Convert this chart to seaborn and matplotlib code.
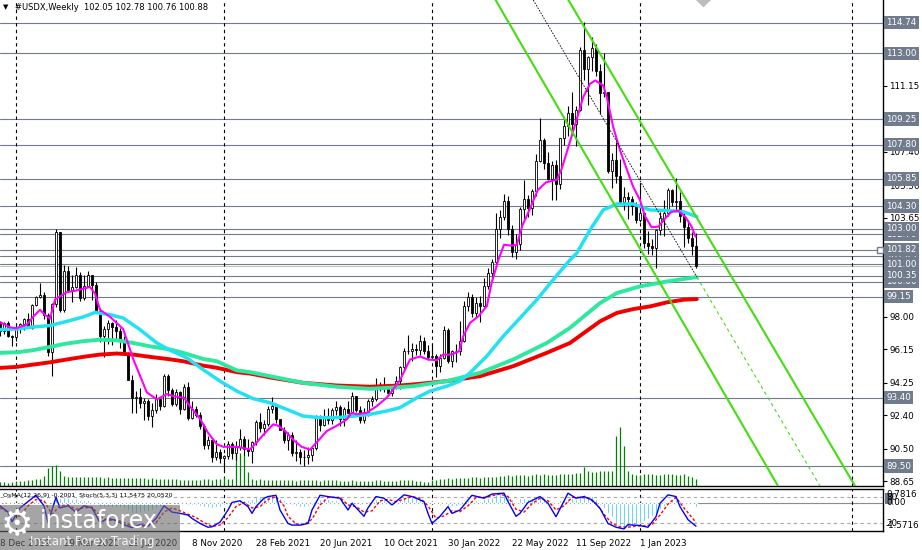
import matplotlib
matplotlib.use("Agg")
import matplotlib.pyplot as plt  # noqa: E402
import seaborn as sns  # noqa: E402
import numpy as np  # noqa: E402
from matplotlib.patches import Rectangle  # noqa: E402
from matplotlib.transforms import blended_transform_factory  # noqa: E402

sns.set_theme(style="white")
plt.rcParams["font.family"] = ["DejaVu Sans"]

# ---------------------------------------------------------------- data
# weekly bars, first bar = week of 8 Dec 2019, last = week of 9 Apr 2023
first_open = 97.70
closes = [
    97.18, 97.66, 96.93, 96.84, 97.36, 97.60, 97.87, 97.39, 98.69, 99.10,
    99.26, 98.13, 95.99, 98.74, 102.82, 98.36, 100.60, 99.50, 99.70, 100.38,
    99.06, 99.73, 100.37, 99.81, 98.34, 96.92, 97.33, 97.62, 97.43, 97.21,
    96.65, 95.92, 94.43, 93.35, 93.42, 93.10, 93.23, 92.36, 92.71, 93.32,
    92.93, 94.64, 93.84, 93.05, 93.70, 92.76, 94.03, 92.23, 92.75, 92.39,
    91.79, 90.70, 90.97, 90.02, 90.32, 89.94, 90.10, 90.77, 90.24, 90.58,
    91.03, 90.48, 90.36, 90.88, 91.99, 91.67, 91.88, 92.77, 92.94, 92.16,
    91.56, 91.00, 91.30, 90.23, 90.30, 90.00, 90.03, 90.14, 90.55, 92.23,
    91.85, 92.23, 92.13, 92.69, 92.89, 92.17, 92.78, 92.52, 93.47, 92.70,
    92.10, 92.58, 93.21, 93.33, 94.04, 94.08, 93.96, 93.64, 94.12, 94.32,
    95.13, 96.03, 96.08, 96.15, 96.12, 96.61, 96.03, 95.70, 95.75, 95.18,
    95.64, 97.27, 95.48, 96.05, 96.05, 96.62, 98.63, 99.12, 98.19, 98.79,
    98.61, 99.77, 100.52, 101.14, 103.00, 103.66, 104.59, 103.02, 101.67, 102.16,
    104.15, 104.71, 104.19, 105.14, 106.89, 108.07, 106.73, 105.87, 106.62, 105.58,
    108.15, 108.85, 109.60, 109.00, 109.79, 113.19, 112.12, 112.80, 113.31, 111.98,
    110.76, 110.80, 106.30, 106.92, 106.01, 104.55, 104.82, 104.70, 104.33, 103.52,
    103.88, 102.22, 102.02, 101.93, 102.92, 103.63, 103.88, 105.21, 104.52, 104.58,
    103.73, 103.12, 102.51, 102.05, 100.88,
]
highs = [
    97.75, 97.72, 97.75, 96.95, 97.60, 97.62, 97.95, 98.19, 98.75, 99.20,
    99.91, 99.40, 98.20, 98.80, 102.99, 102.82, 100.93, 100.87, 100.40, 100.85,
    100.55, 100.40, 100.58, 100.40, 99.97, 98.50, 97.50, 97.80, 97.70, 97.80,
    97.35, 96.90, 96.00, 94.70, 93.75, 93.95, 93.40, 93.30, 93.10, 93.60,
    93.35, 94.75, 94.75, 93.95, 93.90, 93.80, 94.20, 94.30, 93.20, 92.90,
    92.60, 91.90, 91.20, 91.05, 91.00, 90.50, 90.15, 90.95, 90.90, 90.95,
    91.60, 91.20, 91.05, 90.95, 92.10, 92.50, 92.10, 92.90, 93.45, 93.00,
    92.20, 91.70, 91.45, 91.43, 91.00, 90.50, 90.40, 90.60, 90.65, 92.40,
    92.40, 92.75, 92.80, 92.80, 93.20, 93.00, 92.85, 93.20, 93.70, 93.50,
    92.95, 92.80, 93.30, 93.50, 94.50, 94.30, 94.55, 94.05, 94.15, 94.65,
    95.20, 96.25, 96.95, 96.50, 96.45, 96.95, 96.85, 96.40, 96.45, 95.90,
    95.90, 97.45, 97.35, 96.10, 96.45, 97.75, 98.90, 99.40, 99.30, 99.10,
    99.20, 100.20, 100.75, 101.30, 103.90, 104.10, 105.00, 104.85, 103.20, 102.70,
    104.25, 105.80, 104.95, 105.25, 107.25, 109.30, 108.20, 107.40, 106.85, 106.95,
    108.20, 109.30, 109.98, 110.80, 110.00, 113.35, 114.78, 112.85, 113.90, 113.50,
    112.40, 113.00, 110.80, 107.30, 107.95, 107.00, 105.40, 105.10, 104.85, 104.55,
    105.60, 103.90, 102.90, 102.40, 103.00, 103.95, 104.65, 105.35, 105.30, 105.90,
    105.10, 104.00, 103.50, 102.80, 102.78,
]
lows = [
    96.90, 97.00, 96.85, 96.36, 96.60, 97.07, 97.25, 97.35, 97.30, 98.60,
    99.05, 97.90, 95.78, 94.65, 98.55, 98.26, 98.30, 99.40, 98.84, 99.64,
    98.90, 98.95, 99.67, 98.95, 98.32, 96.55, 95.71, 96.45, 96.38, 96.75,
    96.20, 95.80, 94.40, 92.55, 92.55, 92.80, 92.10, 92.12, 91.75, 92.50,
    92.70, 92.85, 93.50, 92.95, 92.95, 92.45, 92.70, 92.14, 92.20, 92.30,
    91.60, 90.50, 90.47, 89.72, 89.85, 89.70, 89.20, 89.90, 89.90, 89.85,
    90.40, 90.10, 90.05, 89.70, 90.70, 91.45, 91.30, 91.80, 92.55, 91.95,
    91.55, 90.80, 90.42, 90.10, 89.80, 89.65, 89.53, 89.65, 89.80, 90.40,
    91.50, 91.80, 91.90, 91.90, 92.40, 91.80, 91.80, 92.45, 92.45, 92.60,
    91.95, 91.95, 92.35, 92.90, 93.20, 93.75, 93.70, 93.50, 93.50, 93.90,
    93.90, 94.95, 95.90, 95.50, 95.85, 95.80, 95.90, 95.55, 95.60, 94.60,
    94.85, 95.60, 95.35, 95.15, 95.40, 95.80, 96.55, 98.35, 98.00, 98.00,
    97.70, 98.55, 99.60, 100.10, 101.00, 102.50, 103.50, 102.65, 101.40, 101.30,
    101.80, 103.40, 103.70, 103.80, 104.85, 106.80, 106.40, 105.80, 104.65, 104.65,
    105.25, 107.80, 108.30, 108.35, 107.70, 109.70, 111.50, 110.05, 112.00, 111.70,
    109.55, 110.50, 106.20, 105.35, 105.60, 104.40, 104.10, 103.55, 103.80, 103.35,
    103.40, 101.90, 101.55, 101.50, 100.80, 102.65, 102.60, 103.75, 104.30, 104.10,
    103.40, 102.00, 102.20, 101.50, 100.76,
]
volumes = [
    40, 45, 35, 40, 50, 55, 55, 60, 65, 70,
    75, 100, 180, 200, 210, 150, 100, 95, 95, 92,
    90, 90, 88, 90, 92, 88, 85, 88, 85, 82,
    85, 80, 80, 82, 78, 80, 78, 75, 78, 75,
    72, 72, 70, 72, 68, 65, 65, 62, 60, 62,
    65, 68, 70, 65, 70, 75, 90, 72, 70, 320,
    330, 300, 140, 70, 65, 68, 62, 60, 65, 62,
    58, 60, 62, 58, 55, 60, 58, 62, 60, 58,
    55, 58, 60, 62, 58, 55, 52, 55, 58, 55,
    52, 50, 52, 55, 58, 60, 55, 52, 50, 55,
    58, 62, 65, 60, 55, 50, 45, 40, 60, 65,
    70, 75, 80, 72, 78, 82, 85, 80, 88, 90,
    85, 92, 95, 88, 92, 98, 105, 110, 100, 115,
    108, 112, 105, 110, 118, 115, 120, 112, 108, 115,
    120, 125, 118, 122, 128, 130, 190, 150, 145, 140,
    148, 150, 155, 150, 500, 590, 400, 150, 120, 110,
    115, 125, 120, 118, 115, 110, 120, 125, 118, 115,
    112, 120, 105, 90, 75,
]
osma = [
    -0.05, -0.02, -0.04, -0.08, -0.05, 0.00, 0.05, 0.06, 0.12, 0.18,
    0.20, 0.12, -0.05, 0.00, 0.35, 0.30, 0.32, 0.28, 0.24, 0.25,
    0.18, 0.15, 0.14, 0.08, -0.05, -0.20, -0.25, -0.25, -0.25, -0.22,
    -0.22, -0.28, -0.40, -0.55, -0.55, -0.52, -0.45, -0.45, -0.40, -0.30,
    -0.25, -0.05, -0.02, -0.05, 0.00, -0.08, 0.05, -0.12, -0.10, -0.12,
    -0.15, -0.25, -0.22, -0.28, -0.20, -0.20, -0.12, 0.00, 0.05, 0.12,
    0.20, 0.18, 0.17, 0.22, 0.35, 0.38, 0.40, 0.47, 0.52, 0.42,
    0.30, 0.15, 0.08, -0.12, -0.16, -0.20, -0.20, -0.18, -0.10, 0.18,
    0.22, 0.25, 0.20, 0.18, 0.15, 0.05, 0.06, 0.03, 0.10, 0.00,
    -0.10, -0.08, 0.00, 0.05, 0.20, 0.22, 0.20, 0.12, 0.12, 0.12,
    0.22, 0.30, 0.35, 0.32, 0.28, 0.27, 0.18, 0.10, 0.05, -0.08,
    -0.10, 0.05, -0.15, -0.18, -0.17, -0.12, 0.08, 0.18, 0.15, 0.15,
    0.12, 0.20, 0.26, 0.32, 0.50, 0.58, 0.60, 0.42, 0.20, 0.12,
    0.25, 0.28, 0.20, 0.22, 0.35, 0.42, 0.28, 0.12, 0.10, -0.05,
    0.15, 0.25, 0.30, 0.25, 0.22, 0.45, 0.48, 0.40, 0.38, 0.22,
    -0.10, -0.30, -0.55, -0.80, -1.10, -1.30, -1.42, -1.40, -1.30, -1.20,
    -1.10, -1.00, -0.90, -0.75, -0.55, -0.35, -0.15, 0.08, 0.15, 0.15,
    0.12, 0.08, 0.05, -0.08, -0.2001,
]

# moving averages (bar index, price)
mag_x = [0, 2.5, 4, 6.7, 8.3, 10, 11.3, 12.5, 13.8, 16.7,
         19.2, 22.5, 23.8, 25, 27.5, 30.8, 33.3, 36.7, 39.2, 41.7,
         44, 46, 47.5, 50, 52, 54.2, 55.8, 59.2, 62.5, 64.2,
         66.7, 68.3, 69.6, 71.3, 73.3, 75.4, 77.5, 79.2, 81.7, 84.2,
         86.7, 87.9, 89.2, 91.7, 94.2, 96.7, 98.3, 100, 102.5, 105,
         107, 109.2, 110.8, 112.9, 114.8, 115.8, 117.5, 119.6, 121.7, 122.9,
         124.6, 126, 127.9, 129.2, 130.6, 132.4, 134.4, 136.5, 139.2, 140.4,
         142.1, 144.6, 145.8, 147.5, 148.8, 150.8, 151.7, 153.3, 155, 157,
         158.3, 160, 161.3, 162.9, 164.6, 166.3, 167.9, 169.6, 171.3, 172.9,
         173.9]
mag_y = [97.7, 97.4, 97.35, 97.55, 98.0, 98.4, 98.1, 97.9, 99.0, 99.4,
         99.5, 99.7, 99.3, 98.4, 98.0, 97.3, 95.6, 93.7, 93.3, 93.6,
         93.45, 93.4, 92.9, 92.2, 91.4, 90.75, 90.6, 90.6, 90.45, 90.86,
         91.5, 91.88, 91.8, 91.5, 91.0, 90.6, 90.44, 90.86, 91.5, 91.8,
         92.16, 92.54, 92.45, 92.54, 92.92, 93.4, 93.87, 94.4, 95.57, 95.74,
         95.57, 95.53, 95.85, 95.85, 96.04, 96.89, 97.65, 98.03, 98.6, 99.92,
         101.24, 102.1, 102.05, 102.1, 103.2, 104.1, 105.2, 105.65, 105.8, 106.4,
         107.67, 109.56, 110.5, 111.26, 111.45, 111.17, 110.5, 108.8, 107.48, 106.2,
         105.4, 104.64, 103.7, 103.1, 103.13, 103.6, 103.98, 104.04, 103.7, 103.13,
         102.56]
cyan_x = [0, 4.2, 8.3, 12.5, 16.7, 20.8, 23.8, 27.5, 30.8, 35,
          39.2, 42.5, 46.7, 50.8, 55, 59.2, 63.3, 67.5, 71.7, 75.8,
          80, 84.2, 88.3, 92.5, 96.7, 100, 104.2, 107.5, 111.7, 115,
          117.5, 121.7, 125.8, 130, 134.2, 138.3, 142.5, 144.2, 147.5, 150.8,
          154.2, 158.3, 162.5, 166.7, 170.8, 174.2]
cyan_y = [97.27, 97.31, 97.42, 97.5, 97.74, 97.99, 98.25, 98.12, 97.93, 97.27,
          96.51, 96.1, 95.66, 94.99, 94.34, 93.77, 93.34, 93.11, 92.73, 92.35,
          92.26, 92.26, 92.35, 92.45, 92.64, 92.83, 93.39, 93.77, 94.05, 94.34,
          94.81, 95.76, 96.89, 97.93, 98.97, 100.11, 101.24, 101.62, 102.94, 104.08,
          104.42, 104.42, 104.08, 104.05, 103.98, 103.7]
mint_x = [0, 4.2, 8.3, 12.5, 16.7, 20.8, 25, 29.2, 33.3, 37.5,
          42.5, 45.8, 50.8, 54.2, 59.2, 62.5, 67.5, 75.8, 84.2, 92.5,
          100, 103.3, 111.7, 120, 128.3, 136.7, 142.5, 150, 154.2, 160,
          166.7, 174.2]
mint_y = [95.95, 95.98, 96.1, 96.29, 96.48, 96.61, 96.7, 96.66, 96.51, 96.32,
          96.14, 95.95, 95.6, 95.47, 94.95, 94.85, 94.62, 94.24, 94.02, 93.9,
          94.0, 94.05, 94.34, 94.81, 95.57, 96.51, 97.37, 98.78, 99.35, 99.73,
          100.01, 100.26]
red_x = [0, 4.2, 8.3, 12.5, 16.7, 20.8, 25, 29.2, 33.3, 37.5,
         42.5, 45.8, 50.8, 54.2, 59.2, 62.5, 67.5, 75.8, 84.2, 92.5,
         100, 103.3, 111.7, 120, 128.3, 136.7, 142.5, 150, 154.2, 158.3,
         162.5, 166.7, 170.8, 174.2]
red_y = [95.09, 95.15, 95.28, 95.41, 95.57, 95.72, 95.85, 95.91, 95.85, 95.72,
         95.58, 95.47, 95.22, 95.1, 94.85, 94.77, 94.55, 94.24, 94.09, 94.02,
         94.09, 94.15, 94.34, 94.62, 95.19, 95.95, 96.51, 97.74, 98.22, 98.44,
         98.59, 98.82, 98.97, 99.01]

# stochastic (5,3,3) main and signal
stoch_x = [0, 2, 3, 5, 7, 9, 11, 12, 14, 15, 17, 19, 21, 23, 25, 27, 29, 31, 33, 35,
           37, 39, 41, 43, 45, 47, 48, 50, 52, 53, 55, 57, 58, 60, 62, 63, 64, 66, 67, 69,
           70, 72, 73, 75, 77, 78, 80, 82, 85, 87, 88, 91, 92, 94, 96, 98, 101, 103, 106, 107,
           108, 110, 112, 113, 115, 117, 118, 121, 123, 126, 127, 129, 130, 132, 135, 137, 139,
           142, 144, 146, 148, 150, 152, 154, 156, 157, 160, 162, 164, 165, 167, 169, 170, 172,
           173, 174]
stoch_main = [60, 45, 22, 55, 70, 85, 60, 20, 80, 55, 60, 45, 60, 55, 20, 30, 25, 15, 8, 15,
              12, 30, 60, 45, 42, 38, 30, 18, 9, 10, 21, 50, 68, 72, 58, 42, 58, 78, 82, 85,
              50, 18, 14, 14, 18, 50, 85, 82, 78, 50, 66, 35, 55, 82, 78, 62, 86, 82, 70, 42,
              18, 35, 58, 42, 50, 74, 85, 78, 88, 90, 70, 35, 42, 68, 82, 66, 34,
              90, 78, 82, 74, 54, 18, 9, 5, 15, 13, 9, 34, 66, 86, 82, 58, 27,
              19, 11.55]
sig_x = [0, 3, 5, 7, 9, 11, 13, 15, 17, 19, 21, 23, 25, 27, 29, 31, 33, 35, 37, 39,
         41, 43, 45, 47, 49, 51, 53, 55, 57, 59, 61, 63, 65, 67, 69, 71, 72, 74, 76, 78,
         80, 82, 85, 87, 89, 91, 93, 95, 97, 99, 101, 103, 105, 107, 109, 111, 113, 115, 117, 119,
         121, 123, 125, 127, 129, 131, 133, 135, 137, 139, 141, 143, 145, 147, 149, 151, 153, 155,
         157, 159, 161, 163, 165, 167, 169, 171, 173, 174]
stoch_sig = [55, 40, 35, 60, 75, 72, 40, 60, 62, 52, 55, 57, 35, 25, 27, 20, 12, 11, 13, 20,
             45, 55, 48, 40, 32, 20, 11, 14, 32, 58, 68, 55, 58, 75, 82, 60, 35, 17, 15, 28,
             62, 80, 80, 62, 58, 45, 48, 72, 75, 70, 76, 82, 78, 60, 30, 36, 48, 46, 60, 80,
             80, 84, 88, 82, 52, 45, 65, 78, 72, 50, 60, 80, 80, 78, 66, 40, 18, 10,
             9, 12, 12, 15, 38, 64, 80, 55, 32, 20.05]

# channel / trend lines (bar, price anchors)
chan_lo_x, chan_lo_y = [123.9, 194.5], [116.03, 88.37]
chan_hi_x, chan_hi_y = [142.1, 213.75], [116.03, 88.37]
mid_x, mid_y = [133.3, 174.2], [116.03, 100.27]
mid_ext_x, mid_ext_y = [174.2, 205.0], [100.27, 88.37]

# horizontal levels (drawing order = stacking order of the labels)
levels = [114.74, 113.00, 109.25, 107.80, 105.85, 104.30, 102.70, 103.00,
          101.45, 101.82, 101.00, 100.00, 100.35, 99.15, 93.40, 89.50]
bid = 100.88
price_ticks = [88.65, 90.50, 92.40, 94.25, 96.15, 98.00, 99.90, 101.75,
               103.65, 105.50, 107.40, 109.30, 111.15, 113.05]
hidden_ticks = [99.90, 101.75, 109.30, 113.05]  # fully under level boxes
separators = [4, 56, 108, 160, 213]
date_ticks = [0, 16, 32, 48, 64, 80, 96, 112, 128, 144, 160]
date_labels = ["8 Dec 2019", "29 Mar 2020", "19 Jul 2020", "8 Nov 2020",
               "28 Feb 2021", "20 Jun 2021", "10 Oct 2021", "30 Jan 2022",
               "22 May 2022", "11 Sep 2022", "1 Jan 2023"]

# ---------------------------------------------------------------- layout
W, H = 922, 550
LEVEL_C = "#707c8c"
fig = plt.figure(figsize=(W / 100, H / 100), dpi=100)
fig.patch.set_facecolor("white")


def box(x0, y0, x1, y1):
    return [x0 / W, 1 - y1 / H, (x1 - x0) / W, (y1 - y0) / H]


ax = fig.add_axes(box(0, 0, 883, 486))
ax_s = fig.add_axes(box(0, 489, 883, 531))
XLIM = (0, 883 / 4)
YLIM = (88.37, 116.03)

idx = np.arange(len(closes))
c = np.array(closes)
o = np.array([first_open] + closes[:-1])
h = np.array(highs)
lo = np.array(lows)

# levels and separators
for lv in levels:
    ax.axhline(lv, color=LEVEL_C, lw=0.8, zorder=1)
ax.axhline(bid, color="#c4c4c4", lw=0.8, zorder=1)
for s in separators:
    ax.axvline(s, color="black", lw=0.8, ls=(0, (3, 3)), zorder=1.5)
    ax_s.axvline(s, color="black", lw=0.8, ls=(0, (3, 3)), zorder=1.5)

# volume at the bottom of the price window
vtrans = blended_transform_factory(ax.transData, ax.transAxes)
ax.vlines(idx, 0, np.array(volumes) / 4860, transform=vtrans,
          color="#008000", lw=0.9, zorder=2)

# candles
ax.vlines(idx, lo, h, color="black", lw=0.8, zorder=3)
body_c = ["white" if cc >= oo else "black" for oo, cc in zip(o, c)]
ax.bar(idx, np.abs(c - o), bottom=np.minimum(o, c), width=0.6,
       color=body_c, edgecolor="black", linewidth=0.6, zorder=4)

# moving averages
for xs, ys, col, lw in [(red_x, red_y, "#f20000", 2.8),
                        (mint_x, mint_y, "#2ee8a0", 2.8),
                        (cyan_x, cyan_y, "#22e2f2", 2.5),
                        (mag_x, mag_y, "#ff00ff", 1.5)]:
    sns.lineplot(x=xs, y=ys, ax=ax, color=col, linewidth=lw,
                 estimator=None, sort=False, legend=False, zorder=5)

# channel
sns.lineplot(x=chan_lo_x, y=chan_lo_y, ax=ax, color="#44dd11", linewidth=1.5,
             estimator=None, sort=False, legend=False, zorder=6)
sns.lineplot(x=chan_hi_x, y=chan_hi_y, ax=ax, color="#44dd11", linewidth=1.5,
             estimator=None, sort=False, legend=False, zorder=6)
ax.plot(mid_x, mid_y, color="black", lw=0.6, ls=(0, (2, 1.5)), zorder=6)
ax.plot(mid_ext_x, mid_ext_y, color="#44dd11", lw=0.8, ls=(0, (3, 3)), zorder=6)

ax.plot([220], [101.82], marker="s", ms=4, mfc="white", mec=LEVEL_C,
        clip_on=False, zorder=9)
ax.plot([175.8], [116.1], marker="D", ms=7, color="#bdbdbd", zorder=8)

ax.set_xlim(*XLIM)
ax.set_ylim(*YLIM)
ax.set_xlabel("")
ax.set_ylabel("")
ax.set_xticks([])
ax.yaxis.tick_right()
ax.set_yticks(price_ticks)
ax.set_yticklabels(["" if t in hidden_ticks else f"{t:.2f}" for t in price_ticks])
ax.tick_params(axis="y", length=3, width=0.8, pad=1.5, labelsize=6.3,
               colors="black", direction="out")
for side in ["left", "top"]:
    ax.spines[side].set_visible(False)
for side in ["right", "bottom"]:
    ax.spines[side].set_color("black")
    ax.spines[side].set_linewidth(1.0)

ytrans = blended_transform_factory(ax.transAxes, ax.transData)
for lv in levels:
    ax.text(1.0036, lv, f"{lv:.2f}", transform=ytrans, ha="left", va="center",
            fontsize=6.3, color="white", zorder=10, clip_on=False,
            bbox=dict(boxstyle="square,pad=0.25", fc=LEVEL_C, ec="none"))

# ---------------------------------------------------------------- sub window
ax_s.bar(idx, osma, width=0.7, color="#00bfff", zorder=2)
ax_s.axhline(0, color="#8c8c8c", lw=0.8, zorder=1)
ax_s.set_ylim(-1.5716, 0.7816)
ax_s.set_xlim(*XLIM)
ax_s.set_yticks([])

ax_t = ax_s.twinx()
ax_t.axhline(80, color="#a8a8a8", lw=0.8, ls=(0, (3, 3)), zorder=1)
ax_t.axhline(20, color="#a8a8a8", lw=0.8, ls=(0, (3, 3)), zorder=1)
sns.lineplot(x=sig_x, y=stoch_sig, ax=ax_t, color="#ff0000", linewidth=1.0,
             linestyle=(0, (2, 1.5)), estimator=None, sort=False, legend=False)
sns.lineplot(x=stoch_x, y=stoch_main, ax=ax_t, color="#0000ff", linewidth=1.0,
             estimator=None, sort=False, legend=False)
ax_t.set_ylim(0, 100)
ax_t.set_xlim(*XLIM)
ax_t.set_yticks([])
ax_t.set_ylabel("")
for sp in ax_t.spines.values():
    sp.set_visible(False)

for side in ["top", "bottom", "right"]:
    ax_s.spines[side].set_color("black")
    ax_s.spines[side].set_linewidth(1.0)
ax_s.spines["left"].set_visible(False)
ax_s.set_xticks(date_ticks)
ax_s.set_xticklabels(date_labels)
ax_s.tick_params(axis="x", length=3, width=0.8, pad=2.5, labelsize=6.3,
                 colors="black", direction="out")
for lab in ax_s.get_xticklabels():
    lab.set_ha("left")

# ---------------------------------------------------------------- texts
def ftext(x, y, s, **kw):
    fig.text(x / W, 1 - y / H, s, va="center", **kw)


ftext(3, 7, "\u25bc", fontsize=5, color="black")
ftext(15, 7, "#USDX,Weekly  102.05 102.78 100.76 100.88", fontsize=6, color="black")
ftext(3, 496, "OsMA(12,26,9) -0.2001  Stoch(5,3,3) 11.5475 20.0520",
      fontsize=4.5, color="black", zorder=5)

fig.add_artist(Rectangle((884.5 / W, 1 - 504 / H), 8.5 / W, 11 / H,
                         transform=fig.transFigure, fc=LEVEL_C, ec="none", zorder=4))
ftext(886, 494.5, "0.7816", fontsize=6.3, color="black", zorder=5)
ftext(886, 497.5, "80", fontsize=6.3, color="black", zorder=5)
ftext(886, 502.5, "0.00", fontsize=6.3, color="black", zorder=5)
ftext(886, 523.5, "20", fontsize=6.3, color="black", zorder=5)
ftext(886, 525.5, "-1.5716", fontsize=6.3, color="black", zorder=5)

# watermark
fig.add_artist(Rectangle((0, 0), 180 / W, 45 / H, transform=fig.transFigure,
                         fc="#6a6a6a", ec="none", alpha=0.6, zorder=20))
ftext(17, 524, "\u2699", fontsize=26, color="white", ha="center", zorder=21)
ftext(40, 521, "instaforex", fontsize=17, color="white", zorder=21)
ftext(30, 542, "Instant Forex Trading", fontsize=8.5, color="white", alpha=0.85, zorder=21)

fig.savefig("out.png", dpi=100)
plt.close(fig)
